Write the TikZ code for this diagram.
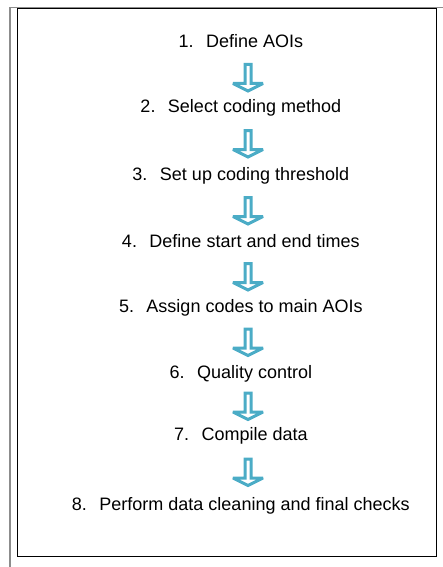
\documentclass[tikz,border=0pt]{standalone}
\usepackage{fontspec}
\setmainfont{Liberation Sans}
\usetikzlibrary{calc}
\definecolor{arrowblue}{RGB}{75,172,198}
\definecolor{framegray}{RGB}{140,140,140}
\tikzset{
  stepnode/.style={anchor=base, inner sep=0pt, font=\fontsize{18pt}{21pt}\selectfont},
  blockarrow/.style={draw=arrowblue, fill=white, line width=3pt, line join=miter, miter limit=3},
}
\newcommand{\stepitem}[2]{\makebox[27.5pt][l]{#1}#2}
\begin{document}
\begin{tikzpicture}[x=1pt,y=-1pt]
\useasboundingbox (0,0) rectangle (443,567);
% outer frame
\draw[framegray, line width=1.4pt] (10,567) -- (10,7.3) -- (443,7.3);
\draw[black, line width=1.1pt] (17.2,8.8) rectangle (436.7,556.8);
% axis for arrows
\coordinate (ax) at (248,0);
% steps
\node[stepnode] (t1) at (240.8,48)  {\stepitem{1.}{Define AOIs}};
\node[stepnode] (t2) at (240.8,113) {\stepitem{2.}{Select coding method}};
\node[stepnode] (t3) at (240.8,180) {\stepitem{3.}{Set up coding threshold}};
\node[stepnode] (t4) at (240.8,247) {\stepitem{4.}{Define start and end times}};
\node[stepnode] (t5) at (240.8,312) {\stepitem{5.}{Assign codes to main AOIs}};
\node[stepnode] (t6) at (240.8,378) {\stepitem{6.}{Quality control}};
\node[stepnode] (t7) at (240.8,440) {\stepitem{7.}{Compile data}};
\node[stepnode] (t8) at (240.8,510) {\stepitem{8.}{Perform data cleaning and final checks}};
% block arrows between steps
\foreach \a/\b in {t1/t2,t2/t3,t3/t4,t4/t5,t5/t6,t6/t7,t7/t8}{
  \path let \p1=(\a.base), \p2=(\b.base), \p3=(ax) in
    coordinate (m) at (\x3, {0.5*(\y1+\y2)});
  \draw[blockarrow] ($(m)+(-3,-16)$) -- ++(0,19) -- ++(-12,0) -- ($(m)+(0,10.5)$)
     -- ($(m)+(15,3)$) -- ++(-12,0) -- ++(0,-19) -- cycle;
}
\end{tikzpicture}
\end{document}
